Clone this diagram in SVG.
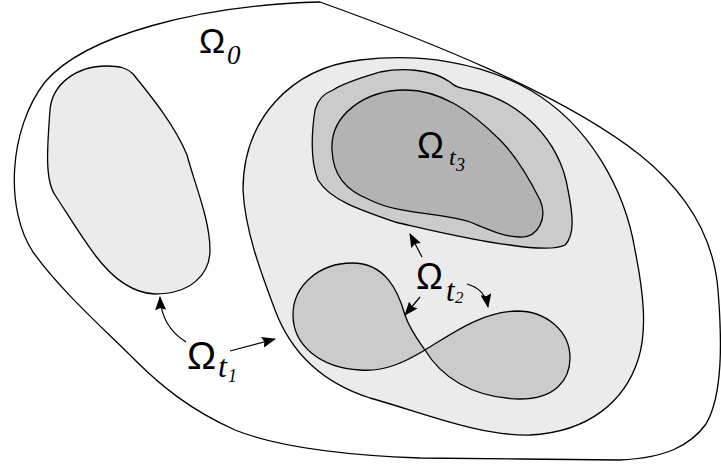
<svg xmlns="http://www.w3.org/2000/svg" width="721" height="464" viewBox="0 0 721 464">
<style>
.shape{stroke:#000;stroke-width:1.3;stroke-linejoin:round}
.l1{fill:#ebebeb}.l2{fill:#cbcbcb}.l3{fill:#b3b3b3}
.om{font-family:"Liberation Sans",Arial,sans-serif;fill:#000}
.sub{font-family:"Liberation Serif","Times New Roman",serif;font-style:italic;fill:#000}
.arr{fill:none;stroke:#000;stroke-width:1.2;marker-end:url(#ah)}
</style>
<defs>
<marker id="ah" viewBox="0 0 14 11" refX="13" refY="5.5" markerWidth="14" markerHeight="11" markerUnits="userSpaceOnUse" orient="auto">
<path d="M0,0 L14,5.5 L0,11 L2,5.5 Z" fill="#000"/>
</marker>
</defs>
<rect width="721" height="464" fill="#fff"/>
<g id="omega0">
<path class="shape" fill="#fff" d="M320,2 C420,38 560,92 640,155 C690,195 714,240 718,290 C722,340 723,395 706,424 C690,446 665,458 620,460 C560,460 480,458 420,458 C340,455 275,446 235,430 C190,410 160,385 135,360 C105,330 60,290 33,252 C5,210 8,130 45,82 C85,35 200,5 320,2 Z"/>
<text class="om" x="199" y="53" font-size="35">Ω</text>
<text class="sub" x="227" y="64" font-size="27">0</text>
</g>
<g id="left-blob">
<path class="shape l1" d="M107,66 C120,66 127,68 133,74 C150,95 175,125 187,155 C195,185 210,220 210,250 C210,275 190,294 155,294 C130,293 110,275 95,255 C80,235 65,210 55,195 C45,180 47,150 50,110 C52,85 75,66 107,66 Z"/>
</g>
<g id="middle-blob">
<path class="shape l1" d="M360,60 C420,53 480,62 530,90 C590,125 625,190 635,250 C643,290 648,330 638,360 C625,400 590,432 530,435 C480,436 430,415 370,398 C320,382 290,350 275,310 C260,270 245,230 243,190 C243,120 290,68 360,60 Z"/>
</g>
<g id="omega-t3">
<path class="shape l2" d="M333,90 C345,82 370,75 380,72 C400,68 430,68 450,82 C455,87 460,88 470,90 C520,100 560,140 568,190 C573,215 575,235 565,245 C555,250 530,248 510,245 C470,240 430,230 395,222 C360,210 330,200 318,180 C310,160 312,130 315,110 C318,98 325,93 333,90 Z"/>
<path class="shape l3" d="M405,90 C440,90 470,110 500,140 C515,155 530,180 540,200 C548,218 538,238 520,237 C505,237 490,230 470,222 C440,212 400,215 370,200 C345,190 333,175 332,150 C330,115 365,90 405,90 Z"/>
<text class="om" x="417" y="158" font-size="36">Ω</text>
<text class="sub" x="449" y="165" font-size="24">t</text>
<text class="sub" x="456" y="171" font-size="18">3</text>
</g>
<g id="omega-t2">
<path class="shape l2" d="M425,350 C440,375 470,398 520,399 C555,399 570,380 570,358 C570,330 545,311 517,311 C480,312 450,335 425,350 C405,362 385,372 360,370 C320,368 293,345 293,315 C293,285 320,263 352,263 C385,263 398,290 405,315 C410,330 418,340 425,350 Z"/>
<text class="om" x="416" y="289" font-size="36">Ω</text>
<text class="sub" x="446" y="301" font-size="31">t</text>
<text class="sub" x="455" y="303" font-size="17">2</text>
</g>
<g id="omega-t1">
<text class="om" x="187" y="369" font-size="39">Ω</text>
<text class="sub" x="218" y="377" font-size="32">t</text>
<text class="sub" x="228" y="382" font-size="18">1</text>
</g>
<g id="connectors">
<path class="arr" d="M186,342 C170,332 161,318 160,297"/>
<path class="arr" d="M230,351 L275,339"/>
<path class="arr" d="M422,257 L410,234"/>
<path class="arr" d="M420,297 L405,315"/>
<path class="arr" d="M467,284 C478,287 486,295 488,307"/>
</g>
</svg>
